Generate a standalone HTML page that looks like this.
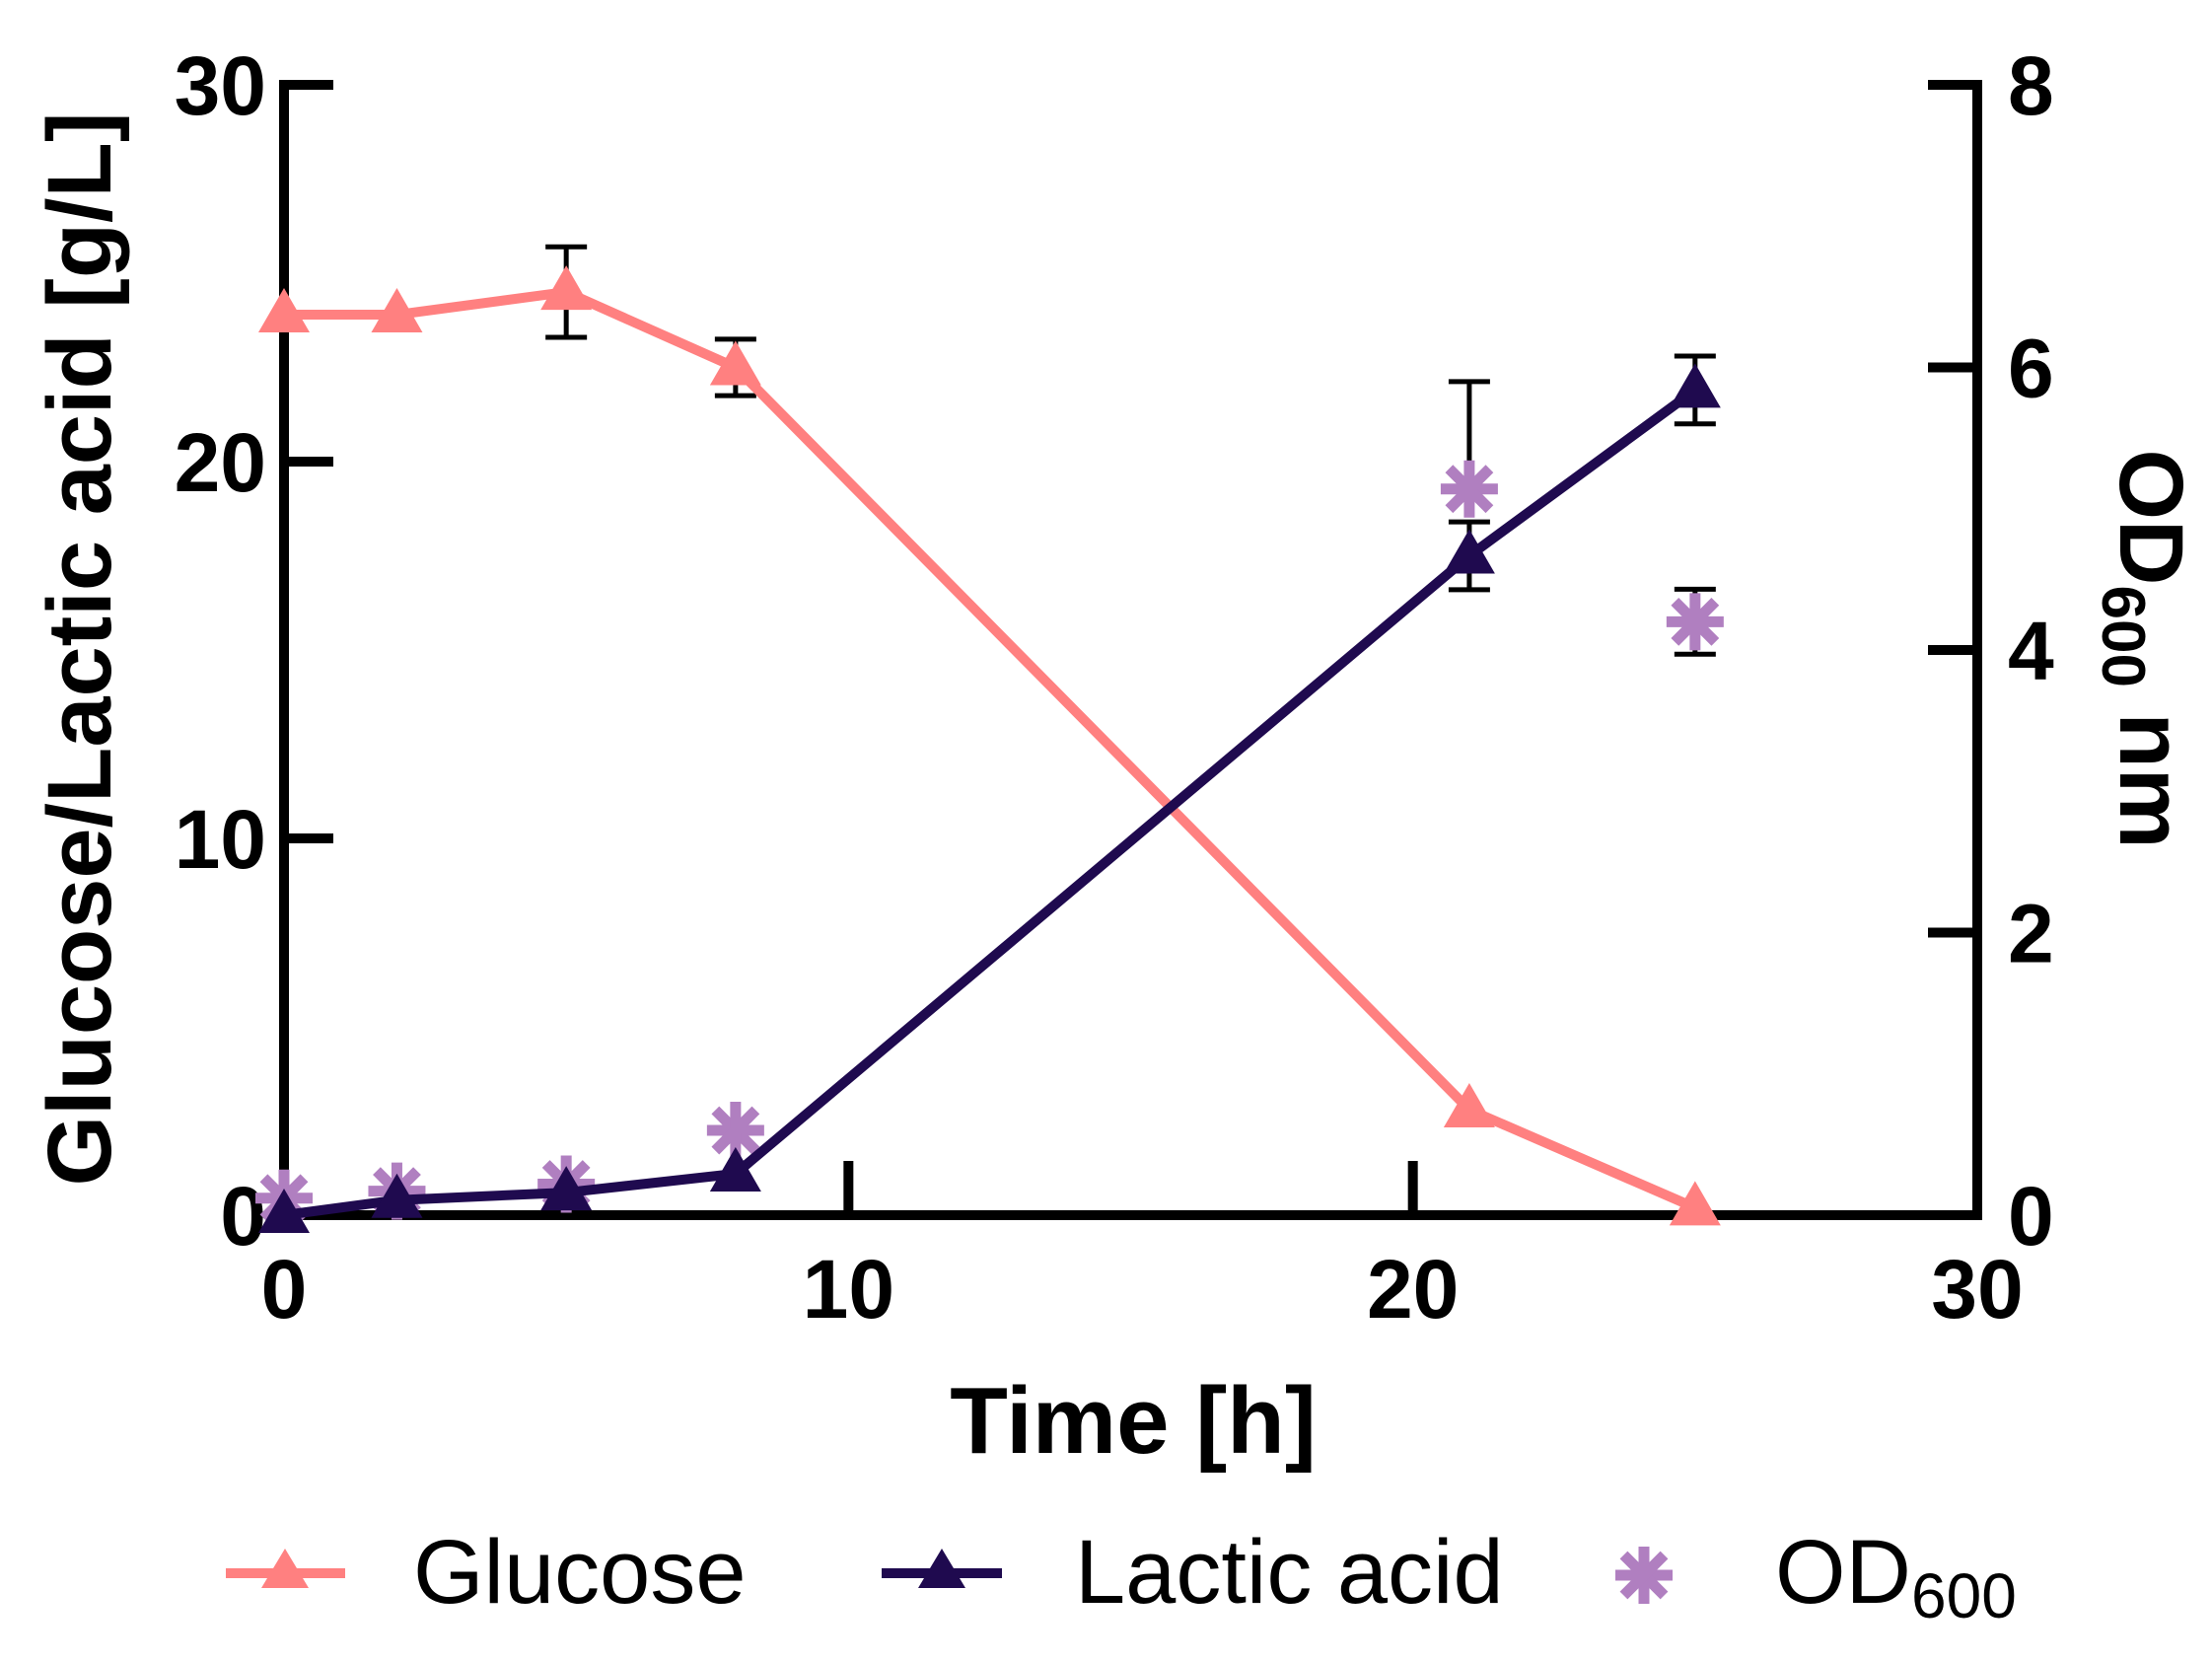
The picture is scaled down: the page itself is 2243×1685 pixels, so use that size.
<!DOCTYPE html>
<html><head><meta charset="utf-8"><style>
html,body{margin:0;padding:0;background:#fff;}
svg{display:block;font-family:"Liberation Sans",sans-serif;}
</style></head><body>
<svg id="chart" width="2243" height="1685" viewBox="0 0 2243 1685" xmlns="http://www.w3.org/2000/svg">
<g id="axes"></g>
<g id="series"></g>
<text x="1149" y="1473" text-anchor="middle" font-size="96" font-weight="bold">Time [h]</text>
<text transform="translate(112,658) rotate(-90)" text-anchor="middle" font-size="92" font-weight="bold">Glucose/Lactic acid [g/L]</text>
<text transform="translate(2150,658) rotate(90)" text-anchor="middle" font-size="92" font-weight="bold">OD<tspan font-size="62" dy="18">600</tspan><tspan dy="-18"> nm</tspan></text>
<g>
 <g>
  <line x1="229" y1="1595" x2="350" y2="1595" stroke="#FF8080" stroke-width="10"/>
  <polygon points="289,1570 313,1610 265,1610" fill="#FF8080"/>
  <text x="419" y="1625" font-size="92">Glucose</text>
 </g>
 <g>
  <line x1="894" y1="1595" x2="1016" y2="1595" stroke="#1F0A4F" stroke-width="10"/>
  <polygon points="955,1570 979,1610 931,1610" fill="#1F0A4F"/>
  <text x="1090" y="1625" font-size="92">Lactic acid</text>
 </g>
 <g>
  <g id="legstar"></g>
  <text x="1800" y="1625" font-size="92">OD<tspan font-size="64" dy="15">600</tspan></text>
 </g>
</g>
</svg>
<script>
const timeH = [0, 2, 5, 8, 21, 25];
const glucose = [23.9, 23.9, 24.5, 22.5, 2.8, 0.2];
const glucoseErr = [0, 0, 1.2, 0.75, 0, 0];
const lactic = [0, 0.4, 0.6, 1.1, 17.5, 21.9];
const lacticErr = [0, 0, 0, 0, 0.9, 0.9];
const od600 = [0.12, 0.17, 0.22, 0.6, 5.14, 4.2];
const odErrUp = [0, 0, 0, 0, 0.76, 0.23];
const odErrDown = [0, 0, 0, 0, 0, 0.23];
const xTicks = [0, 10, 20, 30];
const yTicks = [0, 10, 20, 30];
const y2Ticks = [0, 2, 4, 6, 8];

const NS = 'http://www.w3.org/2000/svg';
const X0 = 288, X1 = 2005, Y0 = 1232, Y1 = 86;
const xs = v => X0 + (X1 - X0) * v / 30;
const ys = v => Y0 - (Y0 - Y1) * v / 30;
const ys2 = v => Y0 - (Y0 - Y1) * v / 8;
function mk(tag, attrs, parent) {
  const e = document.createElementNS(NS, tag);
  for (const k in attrs) e.setAttribute(k, attrs[k]);
  parent.appendChild(e); return e;
}
const axes = document.getElementById('axes');
const ser = document.getElementById('series');

let a = mk('path', {d: `M${X0},${Y1} V${Y0} H${X1} V${Y1}`, fill: 'none', stroke: '#000', 'stroke-width': 10, 'stroke-linejoin': 'miter'}, axes);



yTicks.forEach(v => {
  const t = mk('line', {x1: X0 - 5, x2: X0 + 50, y1: ys(v), y2: ys(v), stroke: '#000', 'stroke-width': 10}, axes);
  
  
  const l = mk('text', {x: 270, y: ys(v) + 30, 'text-anchor': 'end', 'font-size': 84, 'font-weight': 'bold'}, axes);
  l.textContent = v;
  
  
});
y2Ticks.forEach(v => {
  const t = mk('line', {x1: X1 + 5, x2: X1 - 50, y1: ys2(v), y2: ys2(v), stroke: '#000', 'stroke-width': 10}, axes);
  
  
  const l = mk('text', {x: 2036, y: ys2(v) + 30, 'text-anchor': 'start', 'font-size': 84, 'font-weight': 'bold'}, axes);
  l.textContent = v;
  
  
});
xTicks.forEach(v => {
  if (v > 0 && v < 30) {
    const t = mk('line', {x1: xs(v), x2: xs(v), y1: Y0 + 5, y2: Y0 - 55, stroke: '#000', 'stroke-width': 10}, axes);
    
    
  }
  const l = mk('text', {x: xs(v), y: 1336, 'text-anchor': 'middle', 'font-size': 84, 'font-weight': 'bold'}, axes);
  l.textContent = v;
  
  
});

function errBar(x, yt, yb, name) {
  const g = mk('g', {stroke: '#000', 'stroke-width': 5}, ser);
  
  
  mk('line', {x1: x, x2: x, y1: yt, y2: yb}, g);
  mk('line', {x1: x - 21, x2: x + 21, y1: yt, y2: yt}, g);
  mk('line', {x1: x - 21, x2: x + 21, y1: yb, y2: yb}, g);
}
function tri(x, y, color, name) {
  const p = mk('polygon', {points: `${x},${y - 27} ${x + 26},${y + 18} ${x - 26},${y + 18}`, fill: color}, ser);
  
  
}
function star(x, y, parent, name) {
  const g = mk('g', {stroke: '#B07FC0', 'stroke-width': 11}, parent);
  
  
  for (let i = 0; i < 4; i++) {
    const ang = i * Math.PI / 4, r = 29;
    mk('line', {x1: x - r * Math.cos(ang), y1: y - r * Math.sin(ang), x2: x + r * Math.cos(ang), y2: y + r * Math.sin(ang)}, g);
  }
}
star(1667, 1597, document.getElementById('legstar'), 'legend-star');

timeH.forEach((t, i) => {
  if (glucoseErr[i]) errBar(xs(t), ys(glucose[i] + glucoseErr[i]), ys(glucose[i] - glucoseErr[i]), 'glucose-error-bar');
  if (lacticErr[i]) errBar(xs(t), ys(lactic[i] + lacticErr[i]), ys(lactic[i] - lacticErr[i]), 'lactic-error-bar');
  if (odErrUp[i] || odErrDown[i]) errBar(xs(t), ys2(od600[i] + odErrUp[i]), ys2(od600[i] - odErrDown[i]), 'od600-error-bar');
});
timeH.forEach((t, i) => star(xs(t), ys2(od600[i]), ser, 'od600-point'));
let gl = mk('polyline', {points: timeH.map((t, i) => xs(t) + ',' + ys(glucose[i])).join(' '), fill: 'none', stroke: '#FF8080', 'stroke-width': 10, 'stroke-linejoin': 'round'}, ser);


timeH.forEach((t, i) => tri(xs(t), ys(glucose[i]), '#FF8080', 'glucose-point'));
let ll = mk('polyline', {points: timeH.map((t, i) => xs(t) + ',' + ys(lactic[i])).join(' '), fill: 'none', stroke: '#1F0A4F', 'stroke-width': 10, 'stroke-linejoin': 'round'}, ser);


timeH.forEach((t, i) => tri(xs(t), ys(lactic[i]), '#1F0A4F', 'lactic-acid-point'));
</script>
</body></html>
